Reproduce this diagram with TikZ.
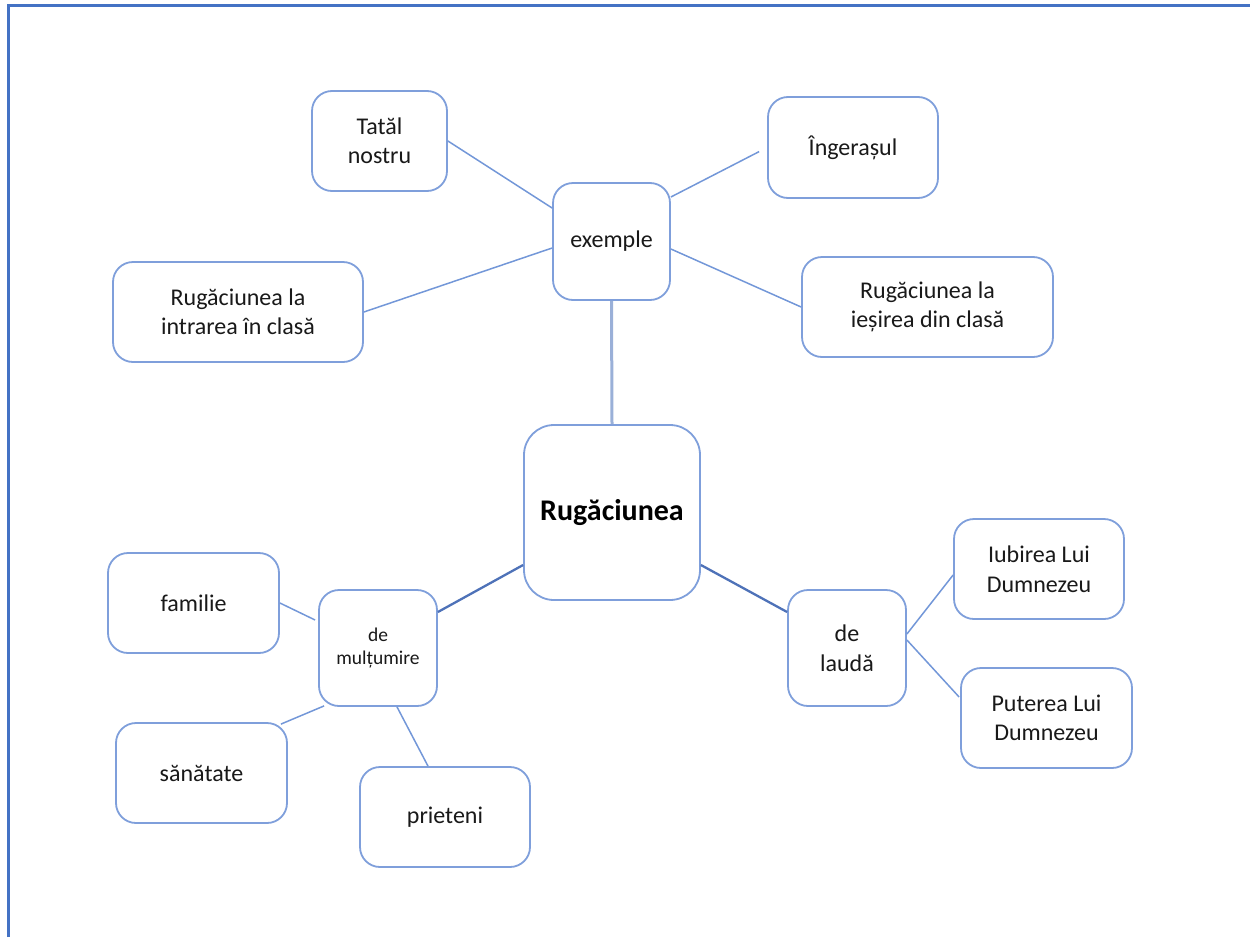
\documentclass[tikz,border=0pt]{standalone}
\usepackage{fontspec}
\setmainfont{Carlito}
\usetikzlibrary{calc}
\definecolor{boxblue}{HTML}{7F9FDB}
\definecolor{linkblue}{HTML}{7397D8}
\definecolor{mainblue}{HTML}{4E72B8}
\definecolor{vertblue}{HTML}{9AB0D8}
\definecolor{framecol}{HTML}{4472C4}
\tikzset{
  box/.style={draw=boxblue, line width=1.8pt, rounded corners=20pt, fill=white,
    align=center, inner sep=2pt, font=\fontsize{24}{29.5}\selectfont, text=black!90},
  link/.style={draw=linkblue, line width=1.5pt},
  mainlink/.style={draw=mainblue, line width=2.3pt},
  vlink/.style={draw=vertblue, line width=3pt},
}
\begin{document}
\begin{tikzpicture}[x=1pt,y=-1pt]
\useasboundingbox (0,0) rectangle (1250,937);
\draw[framecol, line width=3pt] (8,937) -- (8,5) -- (1250,5);

\node[box, minimum width=135pt, minimum height=100pt] (tatal) at (379.5,141) {Tatăl\\nostru};
\node[box, minimum width=170pt, minimum height=101pt] (inger) at (853,147.5) {Îngerașul};
\node[box, minimum width=117pt, minimum height=117pt] (exemple) at (611.5,241.5) {exemple};
\node[box, minimum width=250pt, minimum height=100pt] (intrarea) at (238,312) {Rugăciunea la\\intrarea în clasă};
\node[box, minimum width=251pt, minimum height=100pt] (iesirea) at (927.5,307) {Rugăciunea la\\ieșirea din clasă};
\node[box, minimum width=176pt, minimum height=175pt, rounded corners=30pt,
  font=\fontsize{30}{36}\selectfont\bfseries, text=black] (rug) at (612,512.5) {Rugăciunea};
\node[box, minimum width=171pt, minimum height=100pt] (familie) at (193.5,603) {familie};
\node[box, minimum width=118pt, minimum height=116pt, font=\fontsize{19.5}{23.5}\selectfont] (multumire) at (378,648) {de\\mulțumire};
\node[box, minimum width=118pt, minimum height=116pt] (lauda) at (847,648) {de\\laudă};
\node[box, minimum width=170pt, minimum height=100pt] (iubirea) at (1039,569) {Iubirea Lui\\Dumnezeu};
\node[box, minimum width=171pt, minimum height=100pt] (puterea) at (1046.5,718) {Puterea Lui\\Dumnezeu};
\node[box, minimum width=171pt, minimum height=100pt] (sanatate) at (201.5,773) {sănătate};
\node[box, minimum width=170pt, minimum height=100pt] (prieteni) at (445,817) {prieteni};

\draw[vlink] (exemple.south) -- (rug.north);
\draw[link] (tatal.east) -- ([yshift=33.5pt]exemple.west);
\draw[link, shorten >=9pt] ([yshift=44.5pt]exemple.east) -- (inger.west);
\draw[link] (intrarea.east) -- ([yshift=-6.5pt]exemple.west);
\draw[link] ([yshift=-7.5pt]exemple.east) -- (iesirea.west);
\draw[mainlink] ([yshift=-52.5pt]rug.west) -- ([yshift=36pt]multumire.east);
\draw[mainlink] ([yshift=-52.5pt]rug.east) -- ([yshift=36pt]lauda.west);
\draw[link] (familie.east) -- ([yshift=28pt,xshift=-3pt]multumire.west);
\draw[link] ([xshift=-7pt,yshift=-2pt]sanatate.north east) -- ([xshift=6pt,yshift=1pt]multumire.south west);
\draw[link] ([xshift=19pt]multumire.south) -- ([xshift=-17pt]prieteni.north);
\draw[link] ([yshift=14pt]lauda.east) -- ([yshift=-6pt]iubirea.west);
\draw[link] ([yshift=8pt]lauda.east) -- ([yshift=21pt,xshift=-1pt]puterea.west);
\end{tikzpicture}
\end{document}
